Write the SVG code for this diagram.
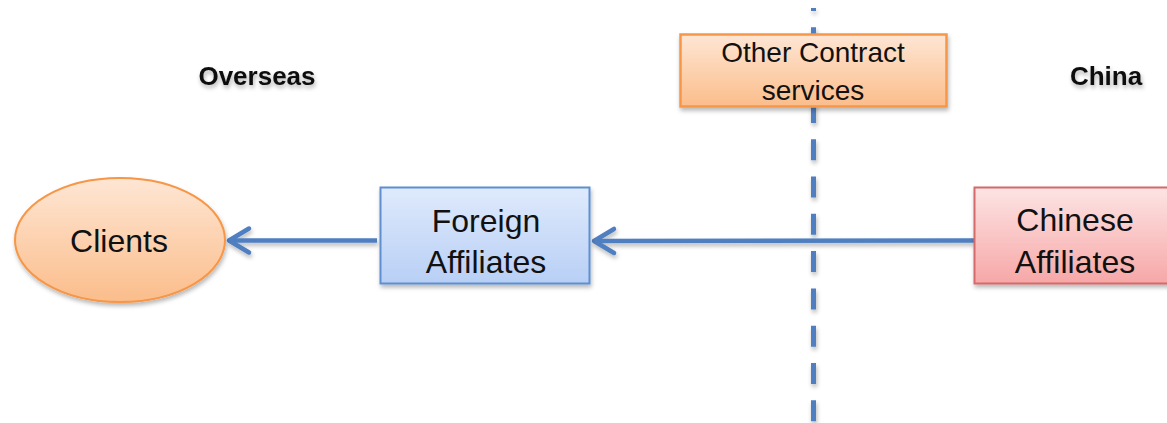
<svg xmlns="http://www.w3.org/2000/svg" width="1167" height="423" viewBox="0 0 1167 423">
  <defs>
    <linearGradient id="gOrange" x1="0" y1="0" x2="0" y2="1">
      <stop offset="0" stop-color="#fee6d4"/>
      <stop offset="1" stop-color="#fbbd8b"/>
    </linearGradient>
    <linearGradient id="gBlue" x1="0" y1="0" x2="0" y2="1">
      <stop offset="0" stop-color="#dfeafc"/>
      <stop offset="1" stop-color="#b8cff5"/>
    </linearGradient>
    <linearGradient id="gPink" x1="0" y1="0" x2="0" y2="1">
      <stop offset="0" stop-color="#fde4e4"/>
      <stop offset="1" stop-color="#f7a7a7"/>
    </linearGradient>
    <!-- soft shadow; region in user space so thin lines are not clipped -->
    <filter id="shadow" filterUnits="userSpaceOnUse" x="0" y="0" width="1167" height="423">
      <feDropShadow dx="1" dy="3" stdDeviation="2" flood-color="#000" flood-opacity="0.28"/>
    </filter>
    <filter id="textShadow" filterUnits="userSpaceOnUse" x="0" y="0" width="1167" height="423">
      <feDropShadow dx="1" dy="3" stdDeviation="2" flood-color="#000" flood-opacity="0.3"/>
    </filter>
    <!-- open chevron: tip at the origin, wings trailing behind along -x -->
    <marker id="openArrow" markerUnits="userSpaceOnUse" viewBox="-26 -16 30 32" markerWidth="30" markerHeight="32" refX="0" refY="0" orient="auto" overflow="visible">
      <path d="M-20 -12 L0 0 L-20 12" fill="none" stroke="#4f7fc0" stroke-width="4.5" stroke-linecap="round" stroke-linejoin="round"/>
    </marker>
    <style>
      .lbl { font-family: "Liberation Sans", Arial, sans-serif; font-size: 32px; fill: #111; text-anchor: middle; }
      .small { font-size: 28px; }
      .region { font-family: "Liberation Sans", Arial, sans-serif; font-weight: bold; font-size: 26px; fill: #111; text-anchor: middle; }
      .conn { stroke: #4f7fc0; stroke-width: 4.5; fill: none; }
    </style>
  </defs>

  <rect width="1167" height="423" fill="#ffffff"/>

  <!-- border between the two regions -->
  <g id="divider" filter="url(#shadow)">
    <line x1="813.5" y1="8" x2="813.5" y2="423" stroke="#4f7fc0" stroke-width="5" stroke-dasharray="21 16.3" stroke-dashoffset="18"/>
  </g>

  <!-- region headings -->
  <g id="overseas">
    <text class="region" x="257" y="85" filter="url(#textShadow)">Overseas</text>
  </g>
  <g id="china">
    <text class="region" x="1106" y="85" filter="url(#textShadow)">China</text>
  </g>

  <!-- connectors -->
  <g id="connectors" filter="url(#shadow)">
    <line class="conn" x1="377" y1="240.5" x2="229" y2="240.5" marker-end="url(#openArrow)"/>
    <line class="conn" x1="974" y1="240.5" x2="594" y2="241" marker-end="url(#openArrow)"/>
  </g>

  <g id="other-contract">
    <rect x="680.5" y="34.5" width="266" height="72" fill="url(#gOrange)" stroke="#f79646" stroke-width="2.5" filter="url(#shadow)"/>
    <text class="lbl small" x="813" y="62">Other Contract</text>
    <text class="lbl small" x="813" y="100">services</text>
  </g>

  <g id="clients">
    <ellipse cx="120" cy="240" rx="105" ry="62" fill="url(#gOrange)" stroke="#f79646" stroke-width="2" filter="url(#shadow)"/>
    <text class="lbl" x="119" y="252">Clients</text>
  </g>

  <g id="foreign-affiliates">
    <rect x="380.5" y="187.5" width="209" height="96" fill="url(#gBlue)" stroke="#5f8fd0" stroke-width="2" filter="url(#shadow)"/>
    <text class="lbl" x="486" y="232">Foreign</text>
    <text class="lbl" x="486" y="273">Affiliates</text>
  </g>

  <g id="chinese-affiliates">
    <rect x="974.5" y="187.5" width="210" height="96" fill="url(#gPink)" stroke="#d46a6a" stroke-width="2" filter="url(#shadow)"/>
    <text class="lbl" x="1075" y="231">Chinese</text>
    <text class="lbl" x="1075" y="273">Affiliates</text>
  </g>
</svg>
